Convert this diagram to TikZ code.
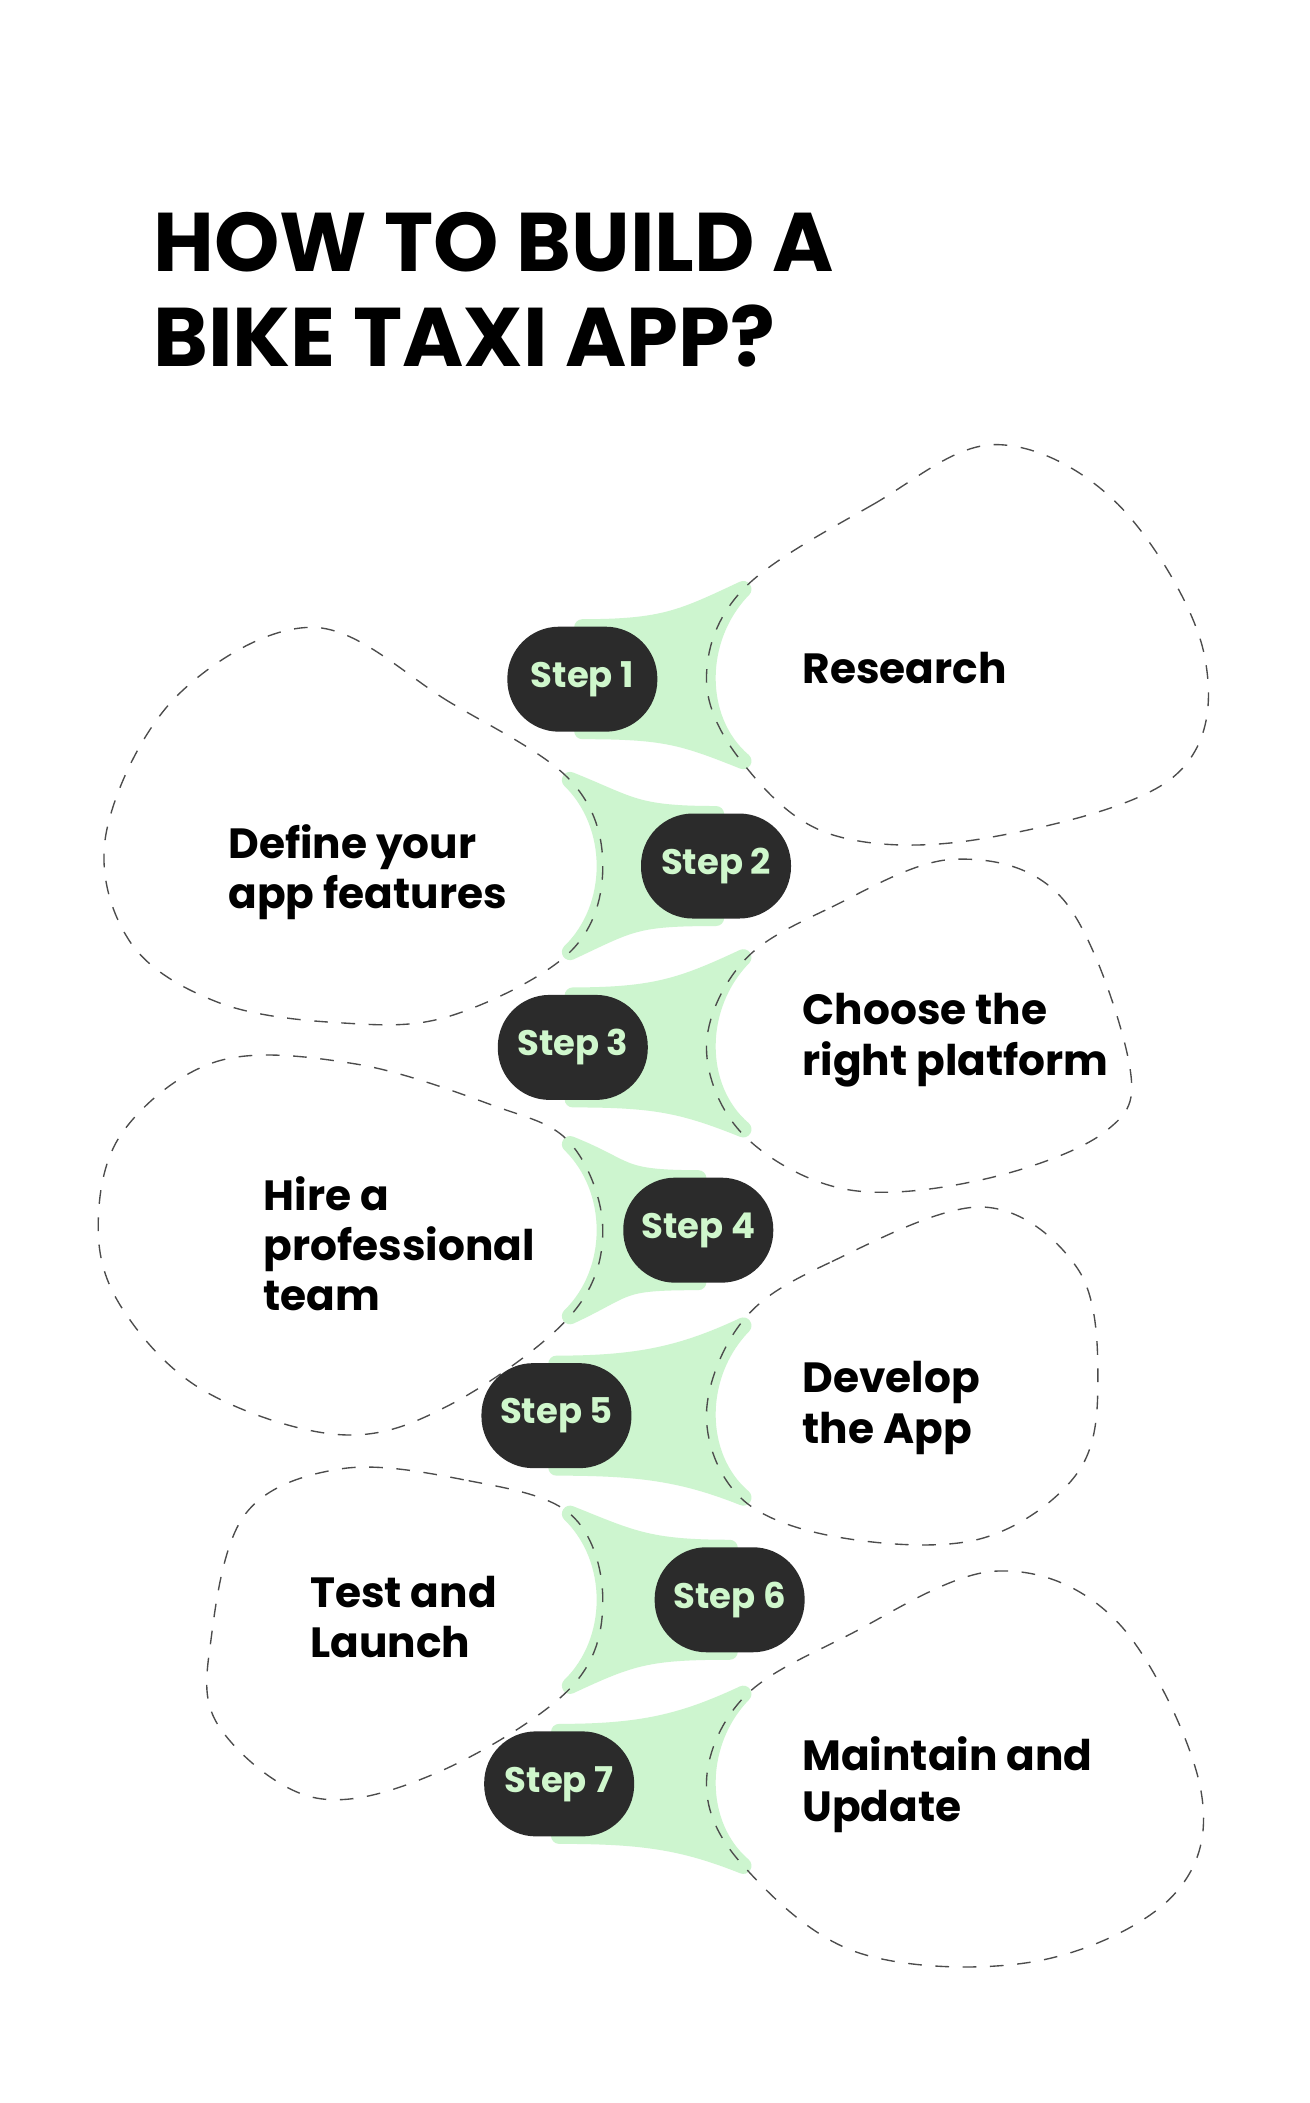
\documentclass[tikz,border=0pt]{standalone}
\usepackage{fontspec}
\setmainfont{Poppins}
\usetikzlibrary{positioning}
\definecolor{pill}{HTML}{2B2B2B}
\definecolor{mint}{HTML}{CDF5CF}
\definecolor{minttext}{HTML}{CFF7CC}
\newcommand{\webR}[2]{% green web towards a right blob
  \fill[mint, draw=mint, line width=6, line join=round]
    (#1,#2-38) .. controls (#1+60,#2-38) and (500,#2-45) .. (545,#2-66)
    .. controls (510,#2-30) and (510,#2+30) .. (545,#2+60)
    .. controls (500,#2+42) and (#1+60,#2+38) .. (#1,#2+38) -- cycle;}
\newcommand{\webL}[2]{% green web towards a left blob
  \fill[mint, draw=mint, line width=6, line join=round]
    (#1,#2-38) .. controls (#1-60,#2-38) and (463,#2-45) .. (418,#2-63)
    .. controls (452,#2-30) and (452,#2+30) .. (418,#2+63)
    .. controls (463,#2+42) and (#1-60,#2+38) .. (#1,#2+38) -- cycle;}
\begin{document}
\begin{tikzpicture}[x=0.5pt,y=-0.5pt,
    stepnode/.style={rectangle, rounded corners=19pt, fill=pill, text=minttext, minimum width=55pt, minimum height=38.5pt, inner sep=0pt, font=\fontsize{13}{15}\selectfont\bfseries},
    caption/.style={anchor=north west, align=left, inner sep=0pt, font=\fontsize{15.5}{18.5}\selectfont\bfseries},
    blob/.style={draw=black!70, dashed, dash pattern=on 5pt off 5pt, line width=0.5pt},
    ]
    \useasboundingbox[fill=white] (0,0) rectangle (960,1542);
    % Title
    \node[anchor=north west, align=left, inner sep=0pt, font=\fontsize{30.5}{35}\selectfont\bfseries] (title) at (112,155) {HOW TO BUILD A\\BIKE TAXI APP?};
    % Webs
    \webR{427}{498}
    \webL{525}{635}
    \webR{420}{768}
    \webL{512}{902}
    \webR{408}{1038}
    \webL{535}{1173}
    \webR{410}{1308}
    % Blobs
    \draw[blob] plot[smooth cycle, tension=0.6] coordinates {(545,432) (640,370) (730,326) (820,370) (883,480) (860,570) (720,615) (610,612) (545,560) (518,498)};
    \draw[blob] plot[smooth cycle, tension=0.6] coordinates {(418,572) (330,515) (230,460) (130,510) (78,610) (95,690) (160,735) (250,750) (330,745) (418,698) (442,635)};
    \draw[blob] plot[smooth cycle, tension=0.6] coordinates {(545,705) (610,665) (700,630) (780,660) (828,780) (810,830) (720,865) (620,872) (545,832) (518,768)};
    \draw[blob] plot[smooth cycle, tension=0.6] coordinates {(418,838) (360,810) (260,780) (160,778) (90,830) (72,900) (90,960) (150,1020) (250,1052) (330,1030) (418,965) (442,902)};
    \draw[blob] plot[smooth cycle, tension=0.6] coordinates {(545,968) (610,925) (720,885) (790,930) (805,1010) (790,1080) (720,1128) (620,1128) (545,1100) (518,1038)};
    \draw[blob] plot[smooth cycle, tension=0.6] coordinates {(418,1110) (340,1085) (250,1077) (180,1110) (155,1200) (160,1265) (230,1318) (320,1300) (418,1238) (442,1173)};
    \draw[blob] plot[smooth cycle, tension=0.6] coordinates {(545,1245) (620,1200) (730,1152) (820,1190) (880,1310) (860,1390) (760,1438) (630,1432) (545,1368) (518,1308)};
    % Steps
    \node[stepnode] (step1) at (427,498) {Step 1};
    \node[stepnode] (step2) at (525,635) {Step 2};
    \node[stepnode] (step3) at (420,768) {Step 3};
    \node[stepnode] (step4) at (512,902) {Step 4};
    \node[stepnode] (step5) at (408,1038) {Step 5};
    \node[stepnode] (step6) at (535,1173) {Step 6};
    \node[stepnode] (step7) at (410,1308) {Step 7};
    % Captions
    \node[caption] (research) at (588,478) {Research};
    \node[caption] (features) at (167,604) {Define your\\app features};
    \node[caption] (platform) at (588,728) {Choose the\\right platform};
    \node[caption] (team) at (193,862) {Hire a\\professional\\team};
    \node[caption] (develop) at (588,998) {Develop\\the App};
    \node[caption] (launch) at (227,1155) {Test and\\Launch};
    \node[caption] (update) at (588,1273) {Maintain and\\Update};
\end{tikzpicture}
\end{document}
